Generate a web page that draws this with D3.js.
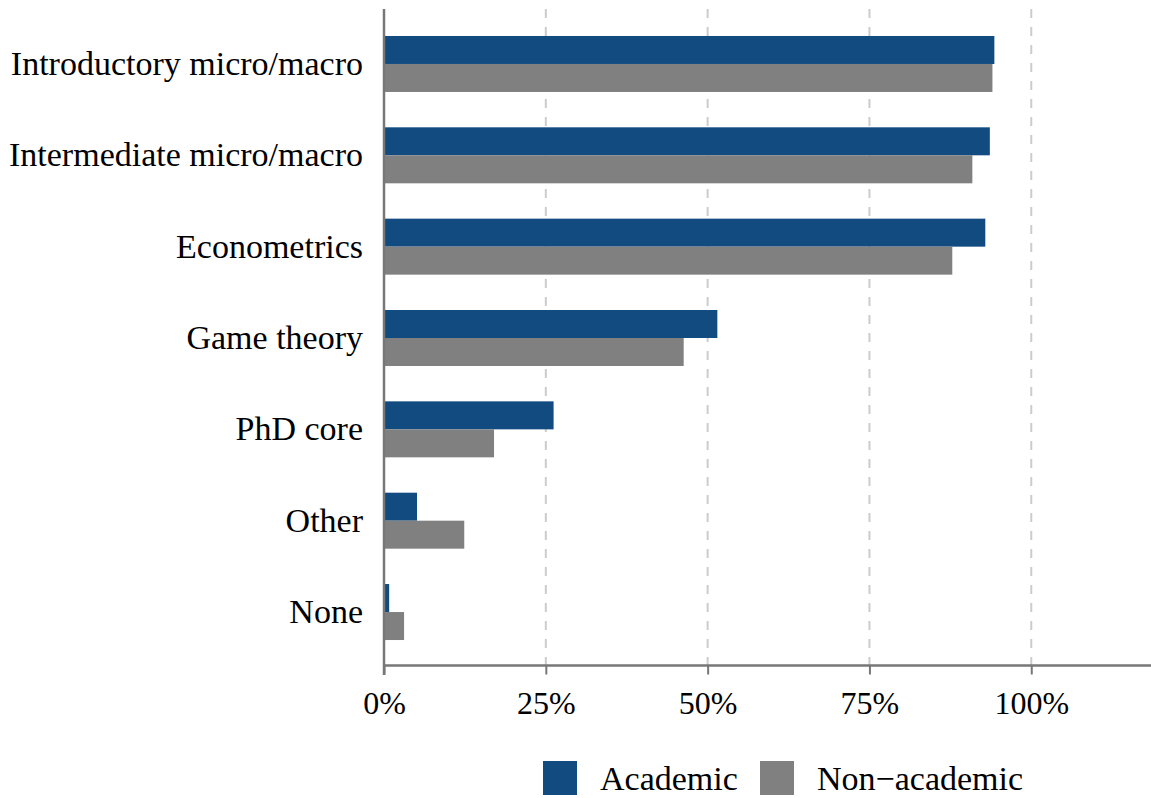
<!DOCTYPE html>
<html>
<head>
<meta charset="utf-8">
<script src="https://cdn.jsdelivr.net/npm/d3@7"></script>
<style>
  html, body { margin: 0; padding: 0; background: #fff; }
  svg { display: block; }
  text { font-family: "Liberation Serif", "Times New Roman", serif; fill: #000; }
</style>
</head>
<body>
<svg id="chart" width="1151" height="798"></svg>
<script>
const categories = ["Introductory micro/macro", "Intermediate micro/macro", "Econometrics", "Game theory", "PhD core", "Other", "None"];
const seriesNames = ["Academic", "Non\u2212academic"];
const academic = [0.943, 0.936, 0.929, 0.515, 0.262, 0.051, 0.008];
const nonAcademic = [0.940, 0.909, 0.878, 0.463, 0.170, 0.124, 0.031];
const tickValues = [0, 0.25, 0.5, 0.75, 1.0];
const tickLabels = ["0%", "25%", "50%", "75%", "100%"];
const colors = ["#114b80", "#808080"];

const svg = d3.select("#chart");
const W = 1151, H = 798;
const x0 = 384, xAxisY = 665.5, yTop = 9;

const x = d3.scaleLinear().domain([0, 1.185]).range([x0, 1151]);
const y = d3.scaleBand().domain(categories).range([18.3, 657.7]).paddingInner(0.387).paddingOuter(0.1935);
const ySub = d3.scaleBand().domain(seriesNames).range([0, y.bandwidth()]);

// gridlines
svg.append("g").selectAll("line").data(tickValues.slice(1)).join("line")
  .attr("x1", d => x(d)).attr("x2", d => x(d))
  .attr("y1", yTop).attr("y2", xAxisY)
  .attr("stroke", "#cccccc").attr("stroke-width", 2)
  .attr("stroke-dasharray", "9,9");

// bars
const data = categories.map((c, i) => ({ c, vals: [academic[i], nonAcademic[i]] }));
const groups = svg.append("g").selectAll("g").data(data).join("g")
  .attr("transform", d => `translate(0,${y(d.c)})`);
groups.selectAll("rect").data(d => d.vals.map((v, j) => ({ v, s: seriesNames[j], j }))).join("rect")
  .attr("x", x(0))
  .attr("y", d => ySub(d.s))
  .attr("width", d => x(d.v) - x(0))
  .attr("height", ySub.bandwidth())
  .attr("fill", d => colors[d.j]);

// x axis
const xAxis = d3.axisBottom(x).tickValues(tickValues).tickFormat((d, i) => tickLabels[i]).tickSize(9).tickPadding(17);
const gx = svg.append("g").attr("transform", `translate(0,${xAxisY})`).call(xAxis);
gx.select(".domain").remove();
gx.selectAll(".tick line").attr("stroke", "#777").attr("stroke-width", 2);
gx.selectAll(".tick text").style("font-size", "32px").attr("font-family", "Liberation Serif").attr("fill", "#000");
svg.append("line").attr("x1", x0 - 1).attr("x2", W).attr("y1", xAxisY).attr("y2", xAxisY)
  .attr("stroke", "#777").attr("stroke-width", 2.5);

// y axis
const yAxis = d3.axisLeft(y).tickSize(0).tickPadding(21);
const gy = svg.append("g").attr("transform", `translate(${x0},0)`).call(yAxis);
gy.select(".domain").remove();
gy.selectAll(".tick text").style("font-size", "34px").attr("dy", "0.32em").attr("font-family", "Liberation Serif").attr("fill", "#000");
svg.append("line").attr("x1", x0).attr("x2", x0).attr("y1", yTop).attr("y2", 675)
  .attr("stroke", "#777").attr("stroke-width", 2.5);

// legend
const legendX = [543, 760];
const leg = svg.append("g").selectAll("g").data(seriesNames).join("g")
  .attr("transform", (d, i) => `translate(${legendX[i]},761)`);
leg.append("rect").attr("width", 34).attr("height", 34).attr("fill", (d, i) => colors[i]);
leg.append("text").attr("x", 57).attr("y", 28.5).style("font-size", "34px").text(d => d);
</script>
</body>
</html>
